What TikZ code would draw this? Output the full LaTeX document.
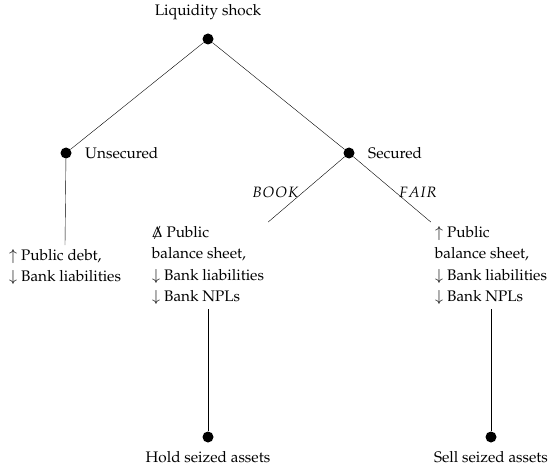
\documentclass[tikz,border=0pt]{standalone}
\usepackage[T1]{fontenc}
\usepackage{mathpazo}
\usepackage{amsmath}
\usepackage{amssymb}
\newcommand{\nodelta}{\ooalign{$\Delta$\cr\hidewidth$/$\hidewidth\cr}}
\newcommand{\wide}[1]{\kern1pt#1\kern1pt}

\tikzset{
	dot/.style={circle, fill=black, inner sep=0pt, minimum size=11pt},
	effect/.style={align=left, inner sep=4pt},
	branch/.style={font=\fontsize{15}{18}\selectfont\itshape}
}

\begin{document}
\begin{tikzpicture}[x=1pt, y=1pt, every node/.append style={font=\fontsize{15.3}{21.5}\selectfont}]
	\useasboundingbox (0,0) rectangle (552,467);

	\node[dot, label={[label distance=10pt]above:Liquidity shock}] (shock) at (208,428) {};
	\node[dot, label={[label distance=10pt]right:Unsecured}] (unsec) at (66,314) {};
	\node[dot, label={[label distance=10pt]right:Secured}] (sec) at (349,314) {};
	\node[dot, label={[label distance=5pt]below:Hold seized assets}] (hold) at (208,30) {};
	\node[dot, label={[label distance=5pt]below:Sell seized assets}] (sell) at (491,30) {};

	\node[effect, anchor=north] (debt) at (65,222) {$\uparrow$ Public debt,\\ $\downarrow$ Bank liabilities};
	\node[effect, anchor=north] (book) at (208,245) {\nodelta\ Public\\ balance sheet,\\ $\downarrow$ Bank liabilities\\ $\downarrow$ Bank NPLs};
	\node[effect, anchor=north] (fair) at (491,245) {$\uparrow$ Public\\ balance sheet,\\ $\downarrow$ Bank liabilities\\ $\downarrow$ Bank NPLs};

	\draw (shock) -- (unsec);
	\draw (shock) -- (sec);
	\draw (unsec) -- (debt.north);
	\draw (sec) -- node[branch, pos=0.55, left] {B\wide{O}O\wide{K}} (book.north east);
	\draw (sec) -- node[branch, pos=0.55, right] {F\wide{A}I\wide{R}} (fair.north west);
	\draw (book.south) -- (hold);
	\draw (fair.south) -- (sell);
\end{tikzpicture}
\end{document}
